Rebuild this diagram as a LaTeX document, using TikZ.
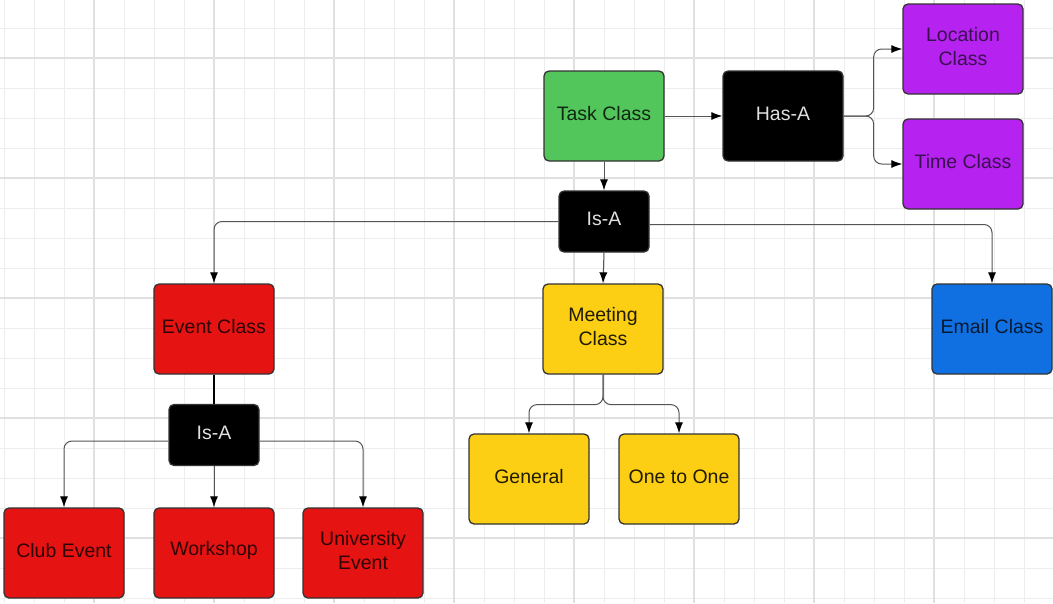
\documentclass[tikz,border=0pt]{standalone}
\usepackage{fontspec}
\setmainfont{Liberation Sans}
\usetikzlibrary{arrows.meta}
\definecolor{gridminor}{HTML}{EDEDED}
\definecolor{gridmajor}{HTML}{E0E0E0}
\definecolor{boxborder}{HTML}{333333}
\definecolor{taskgreen}{HTML}{52C65B}
\definecolor{purplebox}{HTML}{B622F0}
\definecolor{redbox}{HTML}{E61313}
\definecolor{yellowbox}{HTML}{FCCE14}
\definecolor{bluebox}{HTML}{1070E2}
\definecolor{conncol}{HTML}{555555}
\definecolor{lighttext}{HTML}{E0E0E0}
\definecolor{purpletext}{HTML}{3A1050}
\definecolor{redtext}{HTML}{300404}
\definecolor{yellowtext}{HTML}{201B02}
\definecolor{bluetext}{HTML}{081A33}
\definecolor{greentext}{HTML}{102812}
\begin{document}
\begin{tikzpicture}[x=1pt,y=-1pt,
  minorline/.style={draw=gridminor,line width=1pt},
  majorline/.style={draw=gridmajor,line width=1.2pt},
  box/.style={draw=boxborder,line width=1.3pt,rounded corners=5pt,
    minimum width=120pt,minimum height=90pt,inner sep=0pt},
  tx/.style={label={[align=center,inner sep=0pt,yshift=2.5pt,
    font=\fontsize{19.5}{24}\selectfont,text=#1]center:\boxtext}},
  relbox/.style={box,fill=black,minimum width=90pt,minimum height=61pt},
  conn/.style={draw=conncol,line width=1pt,rounded corners=8pt,
    -{Latex[length=11pt,width=8pt,color=black]}},
  plainconn/.style={draw=black,line width=1.4pt}]
\useasboundingbox (0,0) rectangle (1053,603);
\fill[white] (0,0) rectangle (1053,603);
% grid
\foreach \x in {4,34,...,1054} \draw[minorline] (\x,0) -- (\x,603);
\foreach \y in {-2,28,...,603} \draw[minorline] (0,\y) -- (1053,\y);
\foreach \x in {94,214,...,1054} \draw[majorline] (\x,0) -- (\x,603);
\foreach \y in {58,178,...,603} \draw[majorline] (0,\y) -- (1053,\y);
% nodes
\def\boxtext{Task Class}
\node[box,fill=taskgreen,tx=greentext] (task) at (604,116) {};
\def\boxtext{Has-A}
\node[relbox,minimum width=120pt,minimum height=90pt,tx=lighttext] (has) at (783,116) {};
\def\boxtext{Location\\Class}
\node[box,fill=purplebox,tx=purpletext] (loc) at (963,49) {};
\def\boxtext{Time Class}
\node[box,fill=purplebox,tx=purpletext] (time) at (963,164) {};
\def\boxtext{Is-A}
\node[relbox,tx=lighttext] (isa) at (604,221.5) {};
\def\boxtext{Event Class}
\node[box,fill=redbox,tx=redtext] (event) at (214,329) {};
\def\boxtext{Meeting\\Class}
\node[box,fill=yellowbox,tx=yellowtext] (meet) at (603,329) {};
\def\boxtext{Email Class}
\node[box,fill=bluebox,tx=bluetext] (email) at (992,329) {};
\def\boxtext{Is-A}
\node[relbox,tx=lighttext] (isb) at (214,435) {};
\def\boxtext{Club Event}
\node[box,fill=redbox,tx=redtext] (club) at (64,553) {};
\def\boxtext{Workshop}
\node[box,fill=redbox,tx=redtext] (work) at (214,553) {};
\def\boxtext{University\\Event}
\node[box,fill=redbox,tx=redtext] (univ) at (363,553) {};
\def\boxtext{General}
\node[box,fill=yellowbox,tx=yellowtext] (gen) at (529,479) {};
\def\boxtext{One to One}
\node[box,fill=yellowbox,tx=yellowtext] (one) at (679,479) {};
% connectors
\draw[conn] (task.east) -- (has.west);
\draw[conn] (has.east) -- ++(30,0) |- (loc.west);
\draw[conn] (has.east) -- ++(30,0) |- (time.west);
\draw[conn] (task.south) -- (isa.north);
\draw[conn] (isa.west) -| (event.north);
\draw[conn] (isa.south) -- (meet.north);
\draw[conn] ([yshift=-3pt]isa.east) -| (email.north);
\draw[plainconn] (event.south) -- (isb.north);
\draw[conn] ([yshift=-6pt]isb.west) -| (club.north);
\draw[conn] (isb.south) -- (work.north);
\draw[conn] ([yshift=-6pt]isb.east) -| (univ.north);
\draw[conn] (meet.south) -- ++(0,30) -| (gen.north);
\draw[conn] (meet.south) -- ++(0,30) -| (one.north);
\end{tikzpicture}
\end{document}
